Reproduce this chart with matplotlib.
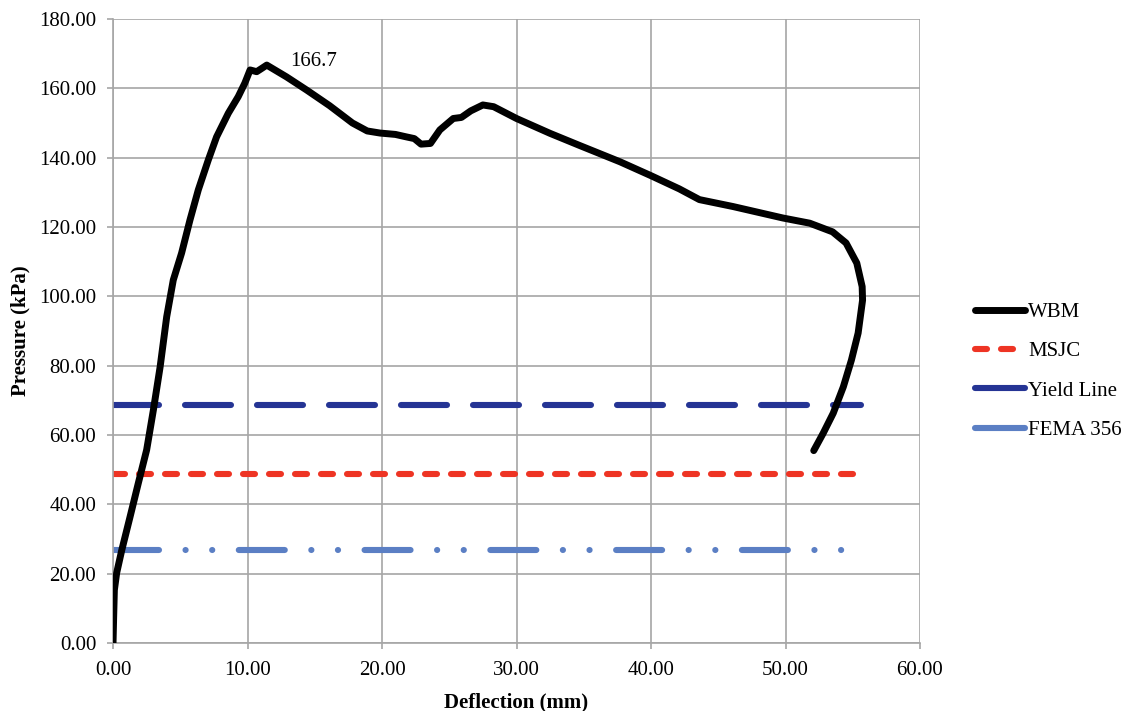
import matplotlib.pyplot as plt
import numpy as np

plt.rcParams['font.family'] = ['Liberation Serif', 'DejaVu Serif']
plt.rcParams['lines.scale_dashes'] = False

# WBM test curve
wbm_x = [0.0, 0.05, 0.1, 0.27, 0.65, 1.26, 1.88, 2.5, 3.0, 3.5, 3.99, 4.48, 5.1,
         5.72, 6.34, 7.08, 7.7, 8.57, 9.31, 9.8, 10.19, 10.68, 11.0, 11.43,
         12.9, 14.4, 16.1, 17.8, 18.9, 19.85, 21.0, 21.8, 22.4, 22.9, 23.6,
         24.3, 25.3, 25.9, 26.6, 27.5, 28.3, 30.0, 32.5, 34.7, 37.7, 40.0,
         42.1, 43.6, 46.1, 49.8, 51.8, 53.5, 54.5, 55.3, 55.7, 55.73, 55.4,
         54.9, 54.3, 53.55, 52.8, 52.1]
wbm_y = [0.0, 8.0, 15.3, 20.2, 26.8, 36.3, 46.1, 55.7, 67.2, 79.6, 94.1, 104.7,
         112.5, 122.0, 130.7, 139.3, 146.0, 152.8, 157.6, 161.5, 165.3, 164.8,
         165.6, 166.7, 163.3, 159.5, 155.0, 150.0, 147.7, 147.1, 146.7, 146.0,
         145.5, 143.9, 144.1, 148.0, 151.3, 151.6, 153.5, 155.2, 154.7, 151.3,
         147.0, 143.5, 138.8, 134.8, 131.0, 127.9, 125.9, 122.6, 121.1, 118.6,
         115.4, 109.6, 102.8, 98.9, 89.4, 81.6, 73.9, 66.3, 60.5, 55.5]

# design levels (kPa)
msjc = 48.7
yield_line = 68.6
fema356 = 26.8
line_x = [0.0, 55.6]

fig = plt.figure(figsize=(11.28, 7.11), dpi=100)
ax = fig.add_axes([0.1002, 0.0956, 0.7154, 0.8777])

px = 0.72  # pixels -> points
ax.plot(line_x, [msjc, msjc], color='#ee3424', lw=4.4, dash_capstyle='round',
        dashes=(12 * px, 14 * px), label='MSJC')
ax.plot(line_x, [yield_line, yield_line], color='#253494', lw=4.4,
        dash_capstyle='round', dashes=(46 * px, 26 * px), label='Yield Line')
ax.plot(line_x, [fema356, fema356], color='#5b7fc4', lw=4.4, dash_capstyle='round',
        dashes=(46 * px, 26.5 * px, 0.1, 26.5 * px, 0.1, 26.5 * px), label='FEMA 356')
ax.plot(wbm_x, wbm_y, color='black', lw=5, solid_capstyle='round',
        solid_joinstyle='round', label='WBM', zorder=5)

ax.text(14.9, 167.6, '166.7', fontsize=15, ha='center', va='center')

ax.set_xlim(0, 60)
ax.set_ylim(0, 180)
ax.set_xticks(np.arange(0, 61, 10))
ax.set_yticks(np.arange(0, 181, 20))
ax.set_xticklabels(['%.2f' % v for v in np.arange(0, 61, 10)])
ax.set_yticklabels(['%.2f' % v for v in np.arange(0, 181, 20)])
ax.tick_params(labelsize=15, length=4, color='#a6a6a6', width=1.2)
ax.tick_params(axis='y', pad=8)
ax.tick_params(axis='x', pad=9)
ax.grid(True, color='#a6a6a6', lw=1.2)
ax.set_axisbelow(True)
for s in ['top', 'right']:
    ax.spines[s].set_visible(False)
for s in ['left', 'bottom']:
    ax.spines[s].set_color('#a6a6a6')
    ax.spines[s].set_linewidth(1.2)

ax.set_xlabel('Deflection (mm)', fontsize=15, fontweight='bold', labelpad=9)
ax.set_ylabel('Pressure (kPa)', fontsize=15, fontweight='bold', labelpad=6)

h, l = ax.get_legend_handles_labels()
order = [3, 0, 1, 2]
leg = fig.legend([h[i] for i in order], [l[i] for i in order], loc='center left',
                 bbox_to_anchor=(0.8644, 0.478), frameon=False, fontsize=15,
                 handlelength=2.4, handletextpad=0.15, labelspacing=0.95,
                 borderpad=0, borderaxespad=0)
for lh in leg.get_lines():
    if lh.get_label() != 'MSJC':
        lh.set_linestyle('-')
    lh.set_solid_capstyle('round')

fig.savefig('out.png', dpi=100)
